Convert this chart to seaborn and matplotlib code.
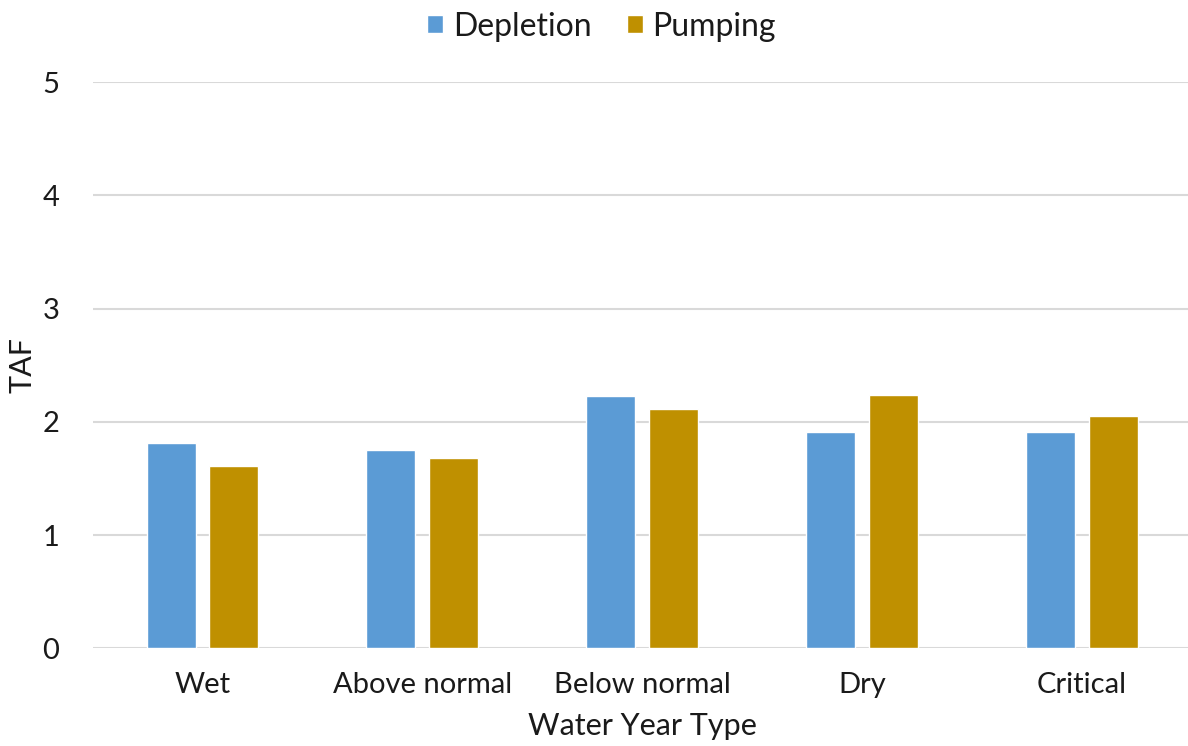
import matplotlib
matplotlib.use("Agg")
import matplotlib.pyplot as plt
import seaborn as sns
import pandas as pd

categories = ["Wet", "Above normal", "Below normal", "Dry", "Critical"]
depletion = [1.81, 1.75, 2.23, 1.91, 1.91]
pumping = [1.61, 1.68, 2.11, 2.24, 2.05]
series_names = ["Depletion", "Pumping"]
colors = ["#5B9BD5", "#BF9000"]

df = pd.DataFrame({
    "Water Year Type": categories * 2,
    "TAF": depletion + pumping,
    "Series": [series_names[0]] * len(categories) + [series_names[1]] * len(categories),
})

sns.set_theme(style="white")
plt.rcParams["font.family"] = ["Lato", "DejaVu Sans"]

fig = plt.figure(figsize=(11.88, 7.46), dpi=100)
ax = fig.add_axes([0.078, 0.131, 0.925, 0.759])

sns.barplot(data=df, x="Water Year Type", y="TAF", hue="Series",
            palette=colors, saturation=1, width=0.572, gap=0.22, ax=ax, legend=True)

ax.set_ylim(0, 5)
ax.set_xlim(-0.5, 4.5)
ax.set_yticks([0, 1, 2, 3, 4, 5])
ax.yaxis.grid(True, color="#d9d9d9", linewidth=1.5)
ax.set_axisbelow(True)
for s in ax.spines.values():
    s.set_visible(False)
ax.tick_params(axis="both", length=0, labelsize=21, colors="#1a1a1a")
ax.tick_params(axis="x", pad=17)
ax.tick_params(axis="y", pad=24)
ax.set_xlabel("Water Year Type", fontsize=22, color="#1a1a1a", labelpad=10)
ax.set_ylabel("TAF", fontsize=22, color="#1a1a1a", labelpad=4)

# legend centred on the figure rather than the axes
leg = ax.legend(loc="upper center", bbox_to_anchor=(0.463, 1.175), ncol=2, frameon=False,
                fontsize=23, handlelength=0.5, handleheight=0.5, handletextpad=0.3,
                columnspacing=1.1)
for t in leg.get_texts():
    t.set_color("#1a1a1a")

fig.savefig("out.png", dpi=100, facecolor="white")
